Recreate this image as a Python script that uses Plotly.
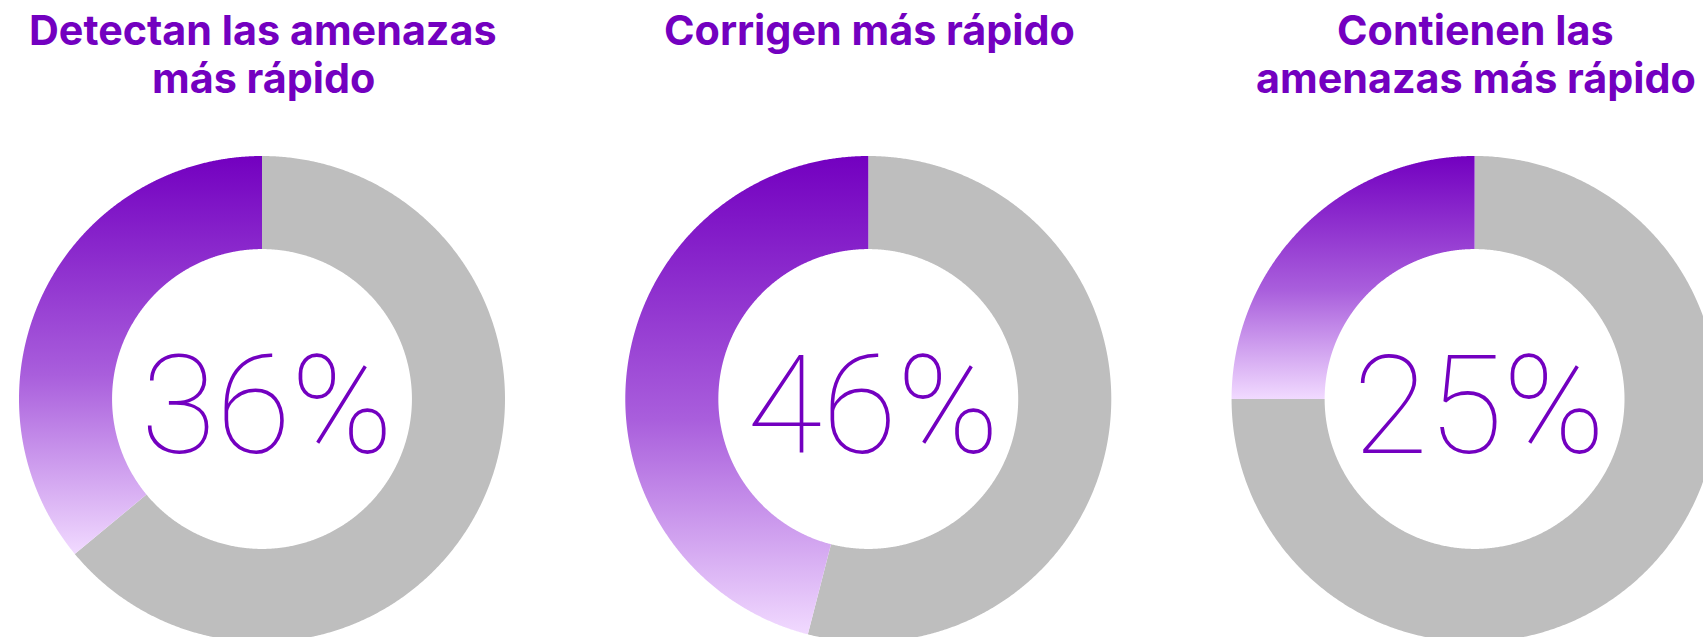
import numpy as np
import plotly.graph_objects as go

# ---- data ----
title_lines = [["Detectan las amenazas", "más rápido"],
               ["Corrigen más rápido"],
               ["Contienen las", "amenazas más rápido"]]
values = [36, 46, 25]          # percent
labels = ["36%", "46%", "25%"]

# ---- layout constants (pixels) ----
W, H = 1703, 637
R_PX = 243.0          # outer radius in pixels
HOLE = 0.617
CX0_PX, CY_PX = 262.0, 399.0
SPACING = 2.495       # centre spacing, in radii
TITLE_TOPS_PX = [2.5, 51.0]

PURPLE = "#7300C0"
GREY = "#BEBEBE"
GRAD = [[0.0, "#F1DAFF"], [0.45, "#A95EDC"], [1.0, "#7300C0"]]

x_range = [-CX0_PX / R_PX, (W - CX0_PX) / R_PX]
y_range = [-(H - CY_PX) / R_PX, CY_PX / R_PX]


def ring_segment(cx, cy, a0, a1, r_out=1.0, r_in=HOLE, n=600):
    """polygon of a ring segment, angles in fractions of a turn, ccw from 12 o'clock"""
    t = np.linspace(a0, a1, n) * 2 * np.pi
    xo = cx - r_out * np.sin(t)
    yo = cy + r_out * np.cos(t)
    xi = cx - r_in * np.sin(t[::-1])
    yi = cy + r_in * np.cos(t[::-1])
    xs = np.concatenate([xo, xi, xo[:1]])
    ys = np.concatenate([yo, yi, yo[:1]])
    return xs, ys


fig = go.Figure()
annotations = []
for i, (lines, val, lab) in enumerate(zip(title_lines, values, labels)):
    cx, cy = i * SPACING, 0.0
    frac = val / 100.0
    # grey remainder
    gx, gy = ring_segment(cx, cy, frac, 1.0)
    fig.add_trace(go.Scatter(x=gx, y=gy, mode="lines", fill="toself",
                             fillcolor=GREY,
                             line=dict(width=0, color="rgba(0,0,0,0)", simplify=False),
                             hoverinfo="skip", showlegend=False))
    # purple share with vertical gradient
    px_, py_ = ring_segment(cx, cy, 0.0, frac)
    fig.add_trace(go.Scatter(x=px_, y=py_, mode="lines", fill="toself",
                             fillgradient=dict(type="vertical", colorscale=GRAD),
                             line=dict(width=0, color="rgba(0,0,0,0)", simplify=False),
                             hoverinfo="skip", showlegend=False))
    # centre value
    annotations.append(dict(x=cx + 0.02, y=cy - 0.027, xref="x", yref="y", text=lab,
                            showarrow=False, xanchor="center", yanchor="middle",
                            font=dict(family="Roboto", size=137, color=PURPLE, weight=100)))
    # title lines
    for j, line in enumerate(lines):
        annotations.append(dict(x=cx + 0.005, y=(CY_PX - TITLE_TOPS_PX[j]) / R_PX,
                                xref="x", yref="y", text=line,
                                showarrow=False, xanchor="center", yanchor="top",
                                font=dict(family="Inter", size=41.3, color=PURPLE, weight=700)))

fig.update_layout(
    width=W, height=H, autosize=False,
    margin=dict(l=0, r=0, t=0, b=0),
    paper_bgcolor="white", plot_bgcolor="white",
    xaxis=dict(range=x_range, visible=False, fixedrange=True),
    yaxis=dict(range=y_range, visible=False, fixedrange=True),
    annotations=annotations,
)
fig.write_html(
    "out.html",
    config={"displayModeBar": False},
    post_script="document.body.style.margin='0';document.documentElement.style.overflow='hidden';",
)
